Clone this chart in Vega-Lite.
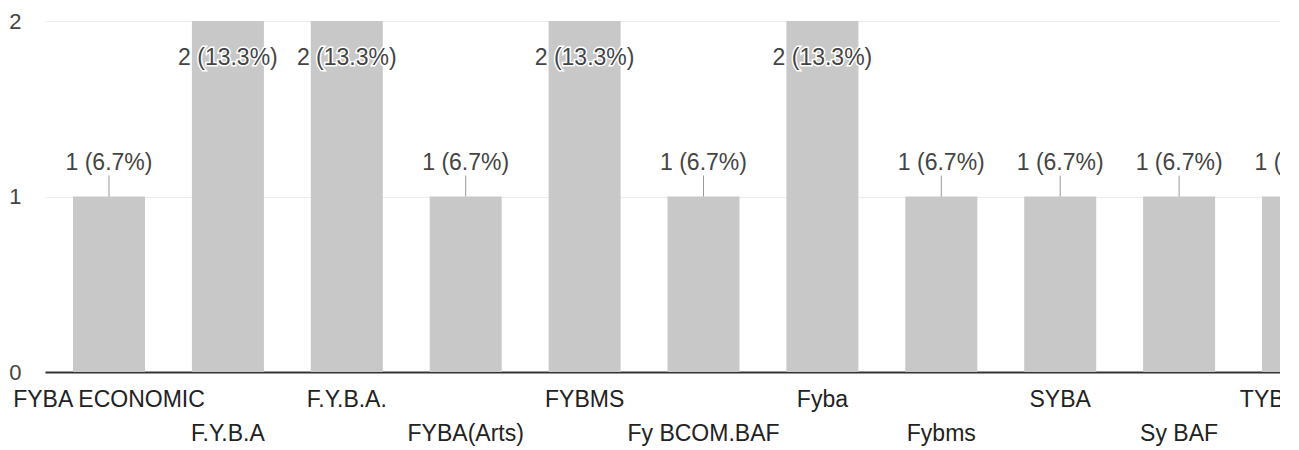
{
  "$schema": "https://vega.github.io/schema/vega-lite/v6.json",
  "autosize": {"type": "none"},
  "width": 1232,
  "height": 351,
  "padding": {"left": 45, "top": 21, "right": 3, "bottom": 78},
  "background": "white",
  "config": {"view": {"stroke": null}, "font": "Liberation Sans"},
  "data": {"values": [
    {"course": "FYBA ECONOMIC", "count": 1, "annotation": "1 (6.7%)"},
    {"course": "F.Y.B.A", "count": 2, "annotation": "2 (13.3%)"},
    {"course": "F.Y.B.A.", "count": 2, "annotation": "2 (13.3%)"},
    {"course": "FYBA(Arts)", "count": 1, "annotation": "1 (6.7%)"},
    {"course": "FYBMS", "count": 2, "annotation": "2 (13.3%)"},
    {"course": "Fy BCOM.BAF", "count": 1, "annotation": "1 (6.7%)"},
    {"course": "Fyba", "count": 2, "annotation": "2 (13.3%)"},
    {"course": "Fybms", "count": 1, "annotation": "1 (6.7%)"},
    {"course": "SYBA", "count": 1, "annotation": "1 (6.7%)"},
    {"course": "Sy BAF", "count": 1, "annotation": "1 (6.7%)"},
    {"course": "TYBA(Arts)", "count": 1, "annotation": "1 (6.7%)"}
  ]},
  "encoding": {
    "x": {
      "field": "course", "type": "nominal", "sort": null,
      "scale": {"range": [0, 1317], "paddingInner": 0.3945, "paddingOuter": 0.2355},
      "axis": {
        "title": null, "labelAngle": 0, "ticks": false, "labelOverlap": false,
        "labelFontSize": 23, "labelColor": "#222222", "labelPadding": 16,
        "labelLineHeight": 34, "labelLimit": 0,
        "labelExpr": "round(datum.index * 10) % 2 == 1 ? ['', datum.label] : datum.label",
        "domainColor": "#333333", "domainWidth": 2
      }
    },
    "y": {
      "field": "count", "type": "quantitative",
      "scale": {"domain": [0, 2], "nice": false},
      "axis": {
        "title": null, "values": [0, 1, 2], "labelExpr": "datum.value", "labelOverlap": false,
        "domain": false, "ticks": false,
        "labelFontSize": 22, "labelColor": "#444444", "labelPadding": 24,
        "gridColor": "#ececec", "gridWidth": 1
      }
    }
  },
  "layer": [
    {"mark": {"type": "bar", "color": "#c8c8c8"}},
    {
      "transform": [{"filter": "datum.count == 1"}],
      "mark": {"type": "rule", "color": "#999999", "strokeWidth": 1, "y2Offset": -21},
      "encoding": {"y2": {"field": "count"}}
    },
    {
      "transform": [{"filter": "datum.count == 1"}],
      "mark": {"type": "text", "fontSize": 23, "color": "#444444", "dy": -34, "baseline": "middle"},
      "encoding": {"text": {"field": "annotation"}}
    },
    {
      "transform": [{"filter": "datum.count == 2"}],
      "mark": {"type": "text", "fontSize": 23, "color": "#444444", "stroke": "#ffffff", "strokeWidth": 3, "dy": 37, "baseline": "middle"},
      "encoding": {"text": {"field": "annotation"}}
    },
    {
      "transform": [{"filter": "datum.count == 2"}],
      "mark": {"type": "text", "fontSize": 23, "color": "#444444", "dy": 37, "baseline": "middle"},
      "encoding": {"text": {"field": "annotation"}}
    }
  ]
}
